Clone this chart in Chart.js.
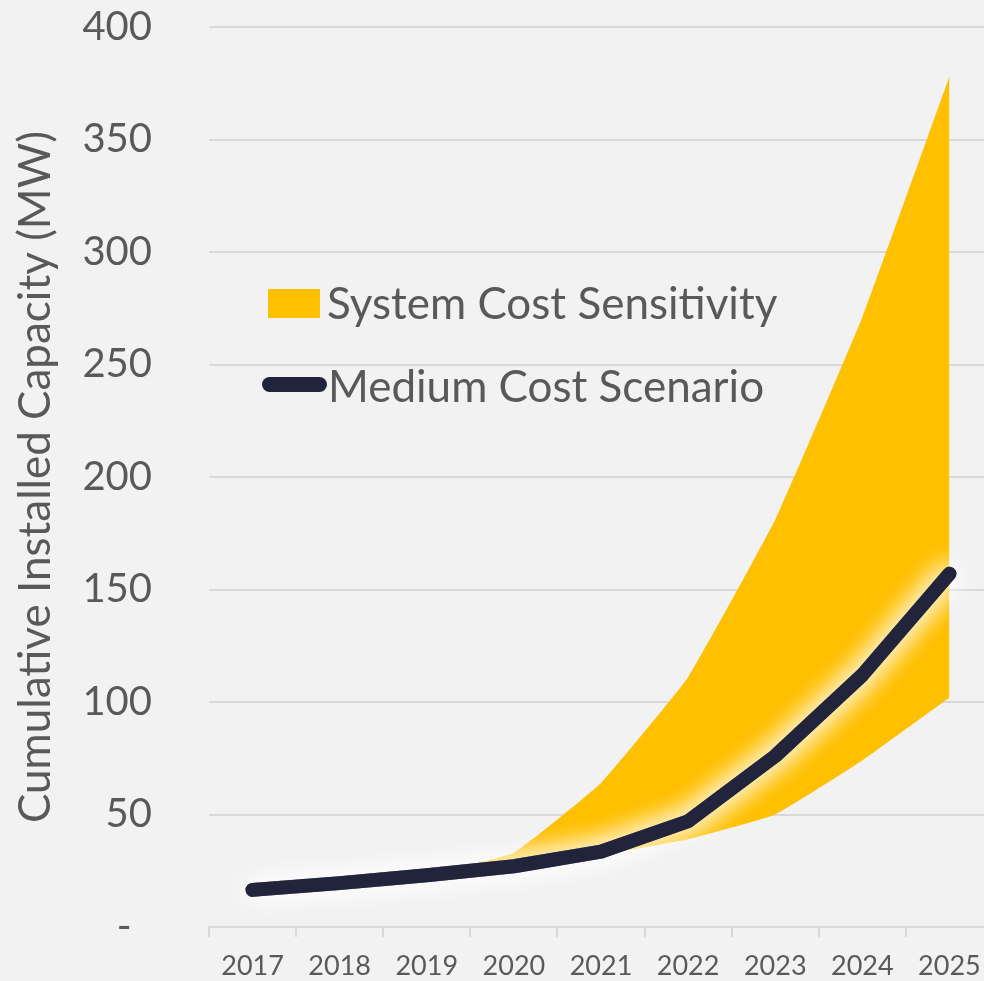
<!DOCTYPE html>
<html>
<head>
<meta charset="utf-8">
<script src="https://cdn.jsdelivr.net/npm/chart.js@4.4.1/dist/chart.umd.min.js"></script>
<style>
  html, body { margin: 0; padding: 0; background: #f2f2f2; overflow: hidden; width: 984px; height: 981px; }
  #wrap { position: absolute; left: 0; top: 0; width: 1000px; height: 981px; }
  .leg { position: absolute; font-family: Lato, "Open Sans", sans-serif; font-size: 44px; color: #595959; white-space: nowrap; line-height: 1; }
  .box { position: absolute; background: #FFC000; }
  .ln { position: absolute; background: #22243c; border-radius: 8px; }
</style>
</head>
<body>
<div id="wrap"><canvas id="c"></canvas></div>
<div class="box" style="left:268px;top:289px;width:52px;height:29px;"></div>
<div class="leg" style="left:327px;top:280px;">System Cost Sensitivity</div>
<div class="ln" style="left:262px;top:377px;width:65px;height:15px;"></div>
<div class="leg" style="left:328px;top:363px;">Medium Cost Scenario</div>
<script>
const years = ['2017','2018','2019','2020','2021','2022','2023','2024','2025'];
const mediumCost = [16.5, 19.5, 23, 27, 33.5, 47, 76, 112, 157];
const sensitivityHigh = [16.5, 19.5, 23.5, 33, 64, 111, 181, 271, 378];
const sensitivityLow = [16, 19, 22, 26, 32, 39, 50, 74, 102];
const yTicks = [0, 50, 100, 150, 200, 250, 300, 350, 400];

const glow = {
  id: 'glow',
  beforeDatasetDraw(chart, args) {
    if (args.index === 0) {
      const ctx = chart.ctx;
      ctx.save();
      ctx.shadowColor = 'rgba(255,255,255,1)';
      ctx.shadowBlur = 26;
      // draw an extra glow pass first
      args.meta.dataset.draw(ctx, chart.chartArea);
    }
  },
  afterDatasetDraw(chart, args) {
    if (args.index === 0) chart.ctx.restore();
  }
};

new Chart(document.getElementById('c'), {
  type: 'line',
  data: {
    labels: years,
    datasets: [
      { label: 'Medium Cost Scenario', data: mediumCost, borderColor: '#22243c', borderWidth: 14,
        borderCapStyle: 'round', borderJoinStyle: 'round', pointRadius: 0, fill: false, tension: 0 },
      { label: 'System Cost Sensitivity', data: sensitivityHigh, borderWidth: 0, borderColor: 'rgba(0,0,0,0)',
        backgroundColor: '#FFC000', pointRadius: 0, fill: '+1', tension: 0.1 },
      { label: 'low', data: sensitivityLow, borderWidth: 0, borderColor: 'rgba(0,0,0,0)',
        pointRadius: 0, fill: false, tension: 0.1 }
    ]
  },
  options: {
    responsive: true,
    maintainAspectRatio: false,
    animation: false,
    layout: { padding: { left: 9, right: 7, top: 27, bottom: 0 } },
    plugins: { legend: { display: false }, tooltip: { enabled: false } },
    scales: {
      x: {
        offset: true,
        grid: { offset: true, drawOnChartArea: false, drawTicks: true, tickLength: 10, color: '#d9d9d9', lineWidth: 2 },
        border: { display: true, color: '#d9d9d9', width: 2 },
        ticks: { color: '#595959', font: { family: 'Lato', size: 27 }, padding: 13, maxRotation: 0 },
        afterFit(s) { s.height = 54; }
      },
      y: {
        min: 0, max: 400,
        afterBuildTicks(s) { s.ticks = yTicks.map(v => ({ value: v })); },
        grid: { color: '#d9d9d9', lineWidth: 2, drawTicks: true, tickLength: 57, tickColor: 'rgba(0,0,0,0)' },
        border: { display: false },
        ticks: { color: '#595959', font: { family: 'Lato', size: 40 }, padding: 0,
          callback: v => v === 0 ? '-  ' : String(v) },
        title: { display: true, text: 'Cumulative Installed Capacity (MW)', color: '#595959',
          font: { family: 'Lato', size: 44 }, padding: 0 },
        afterFit(s) { s.width = 200; }
      }
    }
  },
  plugins: [glow]
});
</script>
</body>
</html>
